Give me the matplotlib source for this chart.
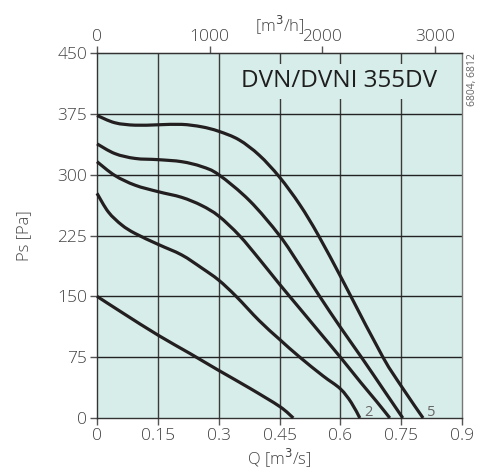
import numpy as np
import matplotlib
matplotlib.use('Agg')
import matplotlib.pyplot as plt
from matplotlib.path import Path
from matplotlib.patches import PathPatch

plt.rcParams['font.family'] = ['Open Sans', 'DejaVu Sans']

# Fan curves: Q [m3/s] vs Ps [Pa]
q1 = [0.0, 0.065, 0.151, 0.229, 0.299, 0.377, 0.451, 0.484]
p1 = [150, 129, 102, 79.6, 59, 36.6, 14, 0]

q2 = [0.0, 0.028, 0.061, 0.094, 0.151, 0.209, 0.258, 0.3, 0.343, 0.4, 0.45, 0.5, 0.557, 0.6, 0.627, 0.648]
p2 = [277, 254, 238, 227.5, 214, 201, 185, 170, 150, 120, 97, 75, 52, 36, 19, 0]

q3 = [0.0, 0.044, 0.094, 0.151, 0.209, 0.258, 0.3, 0.351, 0.4, 0.45, 0.5, 0.55, 0.6, 0.65, 0.69, 0.722]
p3 = [316, 299, 287, 279, 272, 262, 249, 225, 196, 165, 135, 105, 75, 44, 20, 0]

q4 = [0.0, 0.044, 0.094, 0.151, 0.209, 0.258, 0.3, 0.376, 0.45, 0.5, 0.549, 0.6, 0.656, 0.705, 0.754]
p4 = [338, 326, 320, 318.5, 316, 310, 300, 268, 225, 188, 150, 112, 72, 36, 0]

q5 = [0.0, 0.044, 0.094, 0.151, 0.209, 0.258, 0.3, 0.35, 0.4, 0.45, 0.5, 0.545, 0.6, 0.625, 0.705, 0.752, 0.804]
p5 = [373, 364, 361, 361.5, 362, 359, 353.5, 343, 324, 297, 263, 226, 175, 151, 75, 38, 0]

xticks = [0, 0.15, 0.3, 0.45, 0.6, 0.75, 0.9]
xtick_labels = ['0', '0.15', '0.3', '0.45', '0.6', '0.75', '0.9']
yticks = [0, 75, 150, 225, 300, 375, 450]
top_ticks = [0, 1000, 2000, 3000]

bg = '#d7ede9'
txt = '#444444'


def smooth_path(q, p):
    # bezier path through the read points (Catmull-Rom style handles)
    pts = np.column_stack([q, p]).astype(float)
    verts = [pts[0]]
    codes = [Path.MOVETO]
    n = len(pts)
    for i in range(n - 1):
        p0 = pts[max(i - 1, 0)]
        a = pts[i]
        b = pts[i + 1]
        p3 = pts[min(i + 2, n - 1)]
        c1 = a + (b - p0) / 6.0
        c2 = b - (p3 - a) / 6.0
        verts += [c1, c2, b]
        codes += [Path.CURVE4] * 3
    return Path(verts, codes)


fig = plt.figure(figsize=(4.83, 4.75), dpi=100)
ax = fig.add_axes([97 / 483, 1 - 418 / 475, 365 / 483, 365 / 475])
ax.set_facecolor(bg)
ax.set_xlim(0, 0.9)
ax.set_ylim(0, 450)

for v in xticks[1:-1]:
    ax.axvline(v, color='#3a3a3a', lw=1.0, zorder=1)
for v in yticks[1:-1]:
    ax.axhline(v, color='#222222', lw=1.0, zorder=1)

for q, p in [(q1, p1), (q2, p2), (q3, p3), (q4, p4), (q5, p5)]:
    ax.add_patch(PathPatch(smooth_path(q, p), facecolor='none',
                           edgecolor='#231f20', lw=2.3, capstyle='butt',
                           joinstyle='round', zorder=3, clip_on=False))

ax.text(0.648 + 0.01, 3, '2', color='#666666', fontsize=10.5, zorder=4)
ax.text(0.804 + 0.01, 3, '5', color='#666666', fontsize=10.5, zorder=4)

ax.text(0.597, 415, 'DVN/DVNI 355DV', fontsize=17.5, color='#1e1e1e',
        ha='center', va='center', zorder=2,
        bbox=dict(facecolor=bg, edgecolor='none', pad=4))

ax.set_xticks(xticks)
ax.set_xticklabels(xtick_labels)
ax.set_yticks(yticks)
ax.tick_params(direction='out', length=5, width=1, color='#555555',
               labelsize=12.5, labelcolor=txt, pad=2)
for lab in ax.get_xticklabels() + ax.get_yticklabels():
    lab.set_fontweight('light')
for s in ax.spines.values():
    s.set_color('#333333')
    s.set_linewidth(1.0)
ax.spines['right'].set_color('#777777')

ax.set_xlabel('Q [m$^3$/s]', fontsize=12, color=txt, labelpad=2, fontweight='light')
ax.set_ylabel('Ps [Pa]', fontsize=12, color=txt, labelpad=18, fontweight='light')

top = ax.secondary_xaxis('top', functions=(lambda x: x * 3600, lambda x: x / 3600))
top.set_xticks(top_ticks)
top.tick_params(direction='out', length=5, width=1, color='#555555',
                labelsize=12.5, labelcolor=txt, pad=1)
for lab in top.get_xticklabels():
    lab.set_fontweight('light')
top.set_xlabel('[m$^3$/h]', fontsize=12, color=txt, labelpad=-2, fontweight='light')
top.spines['top'].set_color('#333333')

fig.text(473 / 483, 1 - 80 / 475, '6804, 6812', rotation=90, fontsize=7.5,
         color='#666666', ha='center', va='center')

fig.savefig('out.png', dpi=100, facecolor='white')
